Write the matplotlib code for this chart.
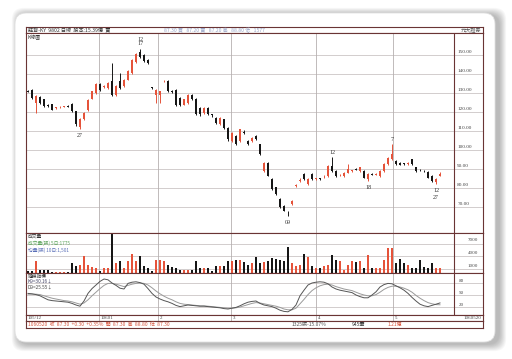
import matplotlib
matplotlib.use("Agg")
import matplotlib.pyplot as plt
from matplotlib.patches import FancyBboxPatch

plt.rcParams['font.family'] = ['Noto Sans CJK TC', 'DejaVu Sans']

W, H = 512, 359

# daily candles, 105/12 .. 106/05
opens = [131.0, 131.7, 124.8, 128.0, 126.5, 123.6, 124.0, 122.0, 122.4, 122.8,
         123.0, 124.0, 120.3, 111.8, 116.2, 121.0, 127.0, 130.0, 134.5, 133.0,
         132.5, 136.0, 129.0, 136.0, 133.4, 136.9, 140.4, 146.0, 151.7, 150.0,
         147.4, 132.7, 129.0, 129.0, 136.0, 136.0, 131.0, 131.7, 127.3, 123.8,
         124.7, 129.0, 126.8, 122.1, 119.5, 122.1, 118.6, 116.8, 113.4, 116.0,
         111.6, 104.6, 107.2, 104.6, 109.5, 104.6, 104.6, 107.2, 102.9, 88.9,
         93.3, 84.6, 80.2, 74.1, 70.6, 67.4, 71.5, 81.0, 83.7, 87.2,
         81.9, 87.2, 84.6, 84.8, 86.0, 86.3, 91.5, 88.9, 86.6, 86.3,
         88.0, 88.9, 89.8, 88.9, 88.9, 84.6, 87.2, 87.0, 86.3, 88.9,
         92.4, 95.0, 94.2, 93.3, 92.6, 92.4, 95.0, 90.7, 89.4, 89.0,
         88.4, 86.3, 82.8, 86.3]
highs = [131.6, 132.0, 128.6, 128.4, 126.9, 124.0, 124.3, 122.6, 123.0, 123.3,
         123.4, 124.5, 120.6, 116.5, 119.8, 126.9, 131.2, 135.0, 135.0, 134.0,
         135.6, 145.6, 134.0, 140.4, 137.5, 141.8, 148.0, 151.0, 153.0, 150.5,
         147.8, 133.2, 132.0, 131.2, 137.0, 136.5, 131.5, 132.0, 127.6, 127.0,
         129.4, 129.3, 127.2, 122.5, 122.5, 122.5, 119.0, 117.2, 117.2, 116.4,
         112.0, 109.5, 107.7, 111.2, 110.5, 105.4, 106.8, 107.8, 103.3, 93.8,
         93.7, 85.0, 80.6, 74.5, 71.0, 67.8, 73.6, 81.8, 85.0, 87.6,
         84.9, 87.6, 85.2, 85.4, 86.6, 91.9, 96.0, 89.3, 87.2, 88.4,
         92.4, 89.5, 90.4, 91.1, 89.3, 87.6, 87.8, 87.6, 89.3, 92.8,
         96.3, 102.9, 94.6, 93.7, 93.0, 93.5, 95.4, 91.0, 89.8, 89.4,
         88.8, 86.6, 85.0, 88.4]
lows = [130.2, 127.0, 119.5, 124.2, 122.5, 122.6, 120.8, 121.5, 122.0, 122.4,
        122.4, 120.0, 112.6, 111.0, 115.6, 120.5, 126.5, 129.5, 131.2, 132.5,
        132.0, 128.5, 128.5, 132.0, 133.0, 136.5, 140.0, 145.5, 148.5, 146.0,
        145.0, 132.2, 124.7, 124.7, 135.5, 130.3, 130.0, 123.3, 123.3, 123.4,
        124.3, 126.4, 118.2, 118.0, 119.0, 118.2, 117.5, 113.8, 113.0, 111.2,
        104.5, 104.0, 102.5, 104.2, 108.5, 102.5, 104.0, 105.0, 97.2, 88.5,
        86.0, 79.0, 76.3, 69.3, 67.6, 65.4, 71.0, 80.4, 82.8, 84.2,
        81.5, 84.2, 84.0, 84.2, 85.4, 85.9, 88.5, 85.9, 86.0, 85.9,
        87.6, 88.3, 89.2, 88.5, 85.0, 83.7, 86.6, 86.5, 85.9, 88.5,
        92.0, 94.6, 92.0, 91.8, 92.0, 92.2, 92.0, 88.5, 88.7, 88.3,
        85.0, 83.3, 81.9, 86.0]
closes = [130.6, 127.3, 128.2, 124.7, 123.0, 123.2, 121.2, 122.1, 122.6, 123.0,
          122.7, 120.4, 113.4, 116.0, 119.2, 126.4, 130.8, 134.5, 131.7, 133.4,
          135.2, 129.0, 133.4, 132.5, 136.9, 141.3, 147.5, 150.5, 149.1, 146.5,
          145.5, 132.5, 131.7, 130.8, 136.2, 130.8, 130.5, 123.8, 123.8, 126.5,
          129.0, 126.8, 118.6, 118.6, 122.1, 118.6, 118.2, 114.2, 116.8, 111.6,
          105.5, 109.0, 102.9, 110.7, 109.0, 102.9, 106.4, 105.5, 97.6, 93.3,
          86.3, 79.3, 76.7, 69.7, 68.0, 67.1, 73.2, 81.1, 83.9, 84.6,
          84.6, 84.6, 84.8, 84.6, 86.2, 91.5, 88.9, 86.3, 86.8, 88.0,
          89.8, 89.1, 89.6, 90.7, 85.4, 87.2, 87.0, 87.3, 88.9, 92.4,
          95.9, 97.6, 92.4, 92.2, 92.4, 93.2, 92.4, 88.9, 89.2, 88.7,
          85.4, 83.7, 84.6, 87.3]
volumes = [420, 420, 2750, 830, 830, 670, 250, 250, 250, 300, 250,
           2300, 1670, 1920, 4000, 1920, 1500, 1080, 420, 1080, 1250,
           9420, 2330, 2920, 1080, 2750, 4580, 2920, 4000, 1670, 1080,
           500, 3000, 3000, 2750, 1920, 1330, 1080, 670, 830, 670,
           830, 2750, 1080, 1080, 1080, 500, 1670, 1670, 1670, 2750,
           2750, 3170, 3000, 2500, 1920, 2330, 3830, 2330, 2500, 2920,
           3580, 3420, 3000, 2920, 6080, 2330, 1670, 1920, 4420, 3750,
           1670, 1080, 1080, 1670, 1920, 4170, 3170, 2920, 830, 1920,
           2750, 2500, 2750, 1080, 4170, 1250, 1080, 1080, 3170, 5830,
           5830, 2330, 3420, 2330, 1920, 1080, 1080, 3000, 1330, 1080,
           2330, 1080, 1080]
k_line = [54, 53, 51, 48, 43, 38, 36, 35, 34, 33,
          32, 29, 25, 22, 35, 54, 66, 75, 84, 90,
          88, 80, 74, 67, 65, 79, 82, 83, 81, 77,
          66, 54, 45, 40, 36, 33, 29, 24, 21, 23,
          25, 24, 23, 22, 22, 21, 20, 19, 18, 16,
          15, 17, 19, 23, 28, 32, 34, 35, 29, 25,
          23, 21, 17, 12, 9, 8, 14, 25, 48, 62,
          75, 80, 82, 83, 82, 78, 70, 65, 62, 60,
          58, 56, 50, 46, 43, 43, 50, 58, 70, 76,
          79, 78, 73, 68, 62, 54, 44, 35, 27, 23,
          21, 24, 27, 30.16]
d_line = [52, 52, 52, 51, 48, 45, 42, 40, 38, 36,
          35, 33, 30, 27, 30, 38, 48, 57, 66, 74,
          79, 79, 77, 74, 71, 74, 77, 79, 80, 79,
          75, 68, 60, 53, 47, 42, 38, 33, 29, 27,
          26, 25, 24, 23, 23, 22, 21, 20, 19, 18,
          17, 17, 18, 20, 23, 26, 29, 31, 30, 28,
          26, 24, 22, 19, 15, 13, 13, 17, 28, 39,
          51, 61, 68, 73, 76, 77, 75, 71, 68, 65,
          63, 61, 57, 53, 50, 48, 48, 51, 57, 64,
          69, 72, 72, 70, 67, 63, 57, 49, 42, 36,
          31, 28, 26, 25.55]

price_ticks = [70, 80, 90, 100, 110, 120, 130, 140, 150]
vol_ticks = [1000, 4000, 7000]
kd_ticks = [20, 50, 80]
month_pos = [17.75, 32.5, 50.75, 72, 91.25]
month_labels = ['10601', '2', '3', '4', '5']
# (candle index, 'hi'/'lo', label)
marks = [(28, 'hi', '12\n17'), (13, 'lo', '27'), (65, 'lo', '09'),
         (76, 'hi', '12'), (85, 'lo', '18'), (91, 'hi', '7'), (102, 'lo', '12\n27')]

RED = '#e5533a'
BLK = '#161616'
FRAME = '#6a3434'
GRID = '#cbc5c5'
MONTH = '#b5b0b0'
SERIF = 'Liberation Serif'
XL = (-0.5, 113.75)
SEP = 106.5

fig = plt.figure(figsize=(W / 100, H / 100), dpi=100)

# card with soft shadow
bg = fig.add_axes([0, 0, 1, 1])
bg.set_xlim(0, W)
bg.set_ylim(H, 0)
bg.axis('off')
for k in range(12, 0, -1):
    bg.add_patch(FancyBboxPatch((15 - k * 0.6 + 4, 13 - k * 0.6 + 2), 480 + k * 1.2, 329 + k * 1.2,
                                boxstyle='round,pad=0,rounding_size=12', fc='#000000',
                                ec='none', alpha=0.022))
bg.add_patch(FancyBboxPatch((15, 13), 480, 329, boxstyle='round,pad=0,rounding_size=11',
                            fc='white', ec='#e0e0e0', lw=0.6))


def px_axes(x0, y0, x1, y1):
    ax = fig.add_axes([x0 / W, 1 - y1 / H, (x1 - x0) / W, (y1 - y0) / H])
    ax.set_xlim(*XL)
    ax.set_xticks([])
    ax.set_yticks([])
    for s in ax.spines.values():
        s.set_color(FRAME)
        s.set_linewidth(0.8)
    return ax


xs = list(range(len(closes)))
up = [c >= o for o, c in zip(opens, closes)]
cols = [RED if u else BLK for u in up]

# title row
ax_t = px_axes(26, 27, 483, 33)
ax_t.set_ylim(0, 1)
ax_t.text(0, 0.45, '鈺齊-KY  9802 日線  股本:15.39億  賣', fontsize=3.7, va='center', color='#333333')
ax_t.text(34, 0.45, '87.30 買   87.20 賣   87.20 高   88.80 低   1577', fontsize=3.7,
          va='center', color='#9aa6c8')
ax_t.text(113.3, 0.45, '元大證券', fontsize=3.7, va='center', ha='right', color='#555555')

# price panel
ax_p = px_axes(26, 33, 483, 233)
ax_p.set_ylim(56.2, 161.5)
for v in price_ticks:
    ax_p.axhline(v, color=GRID, lw=0.6, zorder=0)
    ax_p.text(107.3, v + 0.6, f'{v:.2f}', fontsize=3.8, family=SERIF, color='#444444', va='bottom')
for m in month_pos:
    ax_p.axvline(m, color=MONTH, lw=0.6, zorder=0)
ax_p.axvline(SEP, color=FRAME, lw=0.8)
ax_p.vlines(xs, lows, highs, colors=cols, lw=0.7, zorder=2)
ax_p.bar(xs, [max(abs(c - o), 0.4) for o, c in zip(opens, closes)],
         bottom=[min(o, c) for o, c in zip(opens, closes)], width=0.68, color=cols, zorder=3)
for i, kind, lab in marks:
    if kind == 'hi':
        ax_p.annotate(lab, (i, highs[i]), xytext=(0, 2), textcoords='offset points', ha='center',
                      va='bottom', fontsize=4.3, family=SERIF, color='#333333', linespacing=0.9)
    else:
        ax_p.annotate(lab, (i, lows[i]), xytext=(0, -3), textcoords='offset points', ha='center',
                      va='top', fontsize=4.3, family=SERIF, color='#333333', linespacing=1.3)
ax_p.text(0, 160.5, 'K線圖', fontsize=3.6, va='top', color='#333333')

# volume panel
ax_v = px_axes(26, 233, 483, 273)
ax_v.set_ylim(0, 9500)
for v in vol_ticks:
    ax_v.axhline(v, color=GRID, lw=0.6, zorder=0)
    ax_v.text(112.5, v + 250, str(v), fontsize=3.6, family=SERIF, color='#444444', va='bottom', ha='right')
for m in month_pos:
    ax_v.axvline(m, color=MONTH, lw=0.6, zorder=0)
ax_v.axvline(SEP, color=FRAME, lw=0.8)
ax_v.bar(xs, volumes, width=0.6, color=cols, zorder=2)
ax_v.text(0, 9300, '成交量', fontsize=3.4, va='top', color='#333333')
ax_v.text(0, 7700, '成交量(張) 5日:1775', fontsize=3.4, va='top', color='#5aa35a')
ax_v.text(0, 6100, '均量(張) 10日:1,501', fontsize=3.4, va='top', color='#5a6fb8')

# KD panel
ax_k = px_axes(26, 273, 483, 315)
ax_k.set_ylim(0, 105)
for v in kd_ticks:
    ax_k.axhline(v, color=GRID, lw=0.6, zorder=0)
    ax_k.text(107.6, v + 1, str(v), fontsize=3.6, family=SERIF, color='#444444', va='bottom')
for m in month_pos:
    ax_k.axvline(m, color=MONTH, lw=0.6, zorder=0)
ax_k.axvline(SEP, color=FRAME, lw=0.8)
ax_k.plot(xs, d_line, color='#9a9a9a', lw=0.7)
ax_k.plot(xs, k_line, color='#555555', lw=0.7)
ax_k.text(0, 103, '隨機指標', fontsize=3.4, va='top', color='#333333')
ax_k.text(0, 90, 'K9=30.16↓', fontsize=3.4, va='top', color='#444466')
ax_k.text(0, 77, 'D9=25.55↓', fontsize=3.4, va='top', color='#444444')

# date row
ax_d = px_axes(26, 315, 483, 321)
ax_d.set_ylim(0, 1)
ax_d.text(0, 0.45, '105/12', fontsize=3.6, family=SERIF, va='center', color='#444444')
for m, lab in zip(month_pos, month_labels):
    ax_d.axvline(m, color=MONTH, lw=0.6)
    ax_d.text(m + 0.4, 0.45, lab, fontsize=3.6, family=SERIF, va='center', color='#444444')
ax_d.text(113.3, 0.45, '1060520', fontsize=3.6, family=SERIF, va='center', ha='right', color='#444444')

# info row
ax_i = px_axes(26, 321, 483, 328)
ax_i.set_ylim(0, 1)
ax_i.text(0, 0.45, '1060520  收  87.30  +0.30  +0.35%  開  87.30  高  88.80  低  87.30',
          fontsize=3.6, va='center', color='#d9573f')
ax_i.text(66, 0.45, '1325張-15.07%', fontsize=3.6, va='center', color='#555555')
ax_i.text(81, 0.45, '945筆', fontsize=3.6, va='center', color='#333333')
ax_i.text(90, 0.45, '1.21億', fontsize=3.6, va='center', color='#d9573f')

fig.savefig('out.png', dpi=100)
